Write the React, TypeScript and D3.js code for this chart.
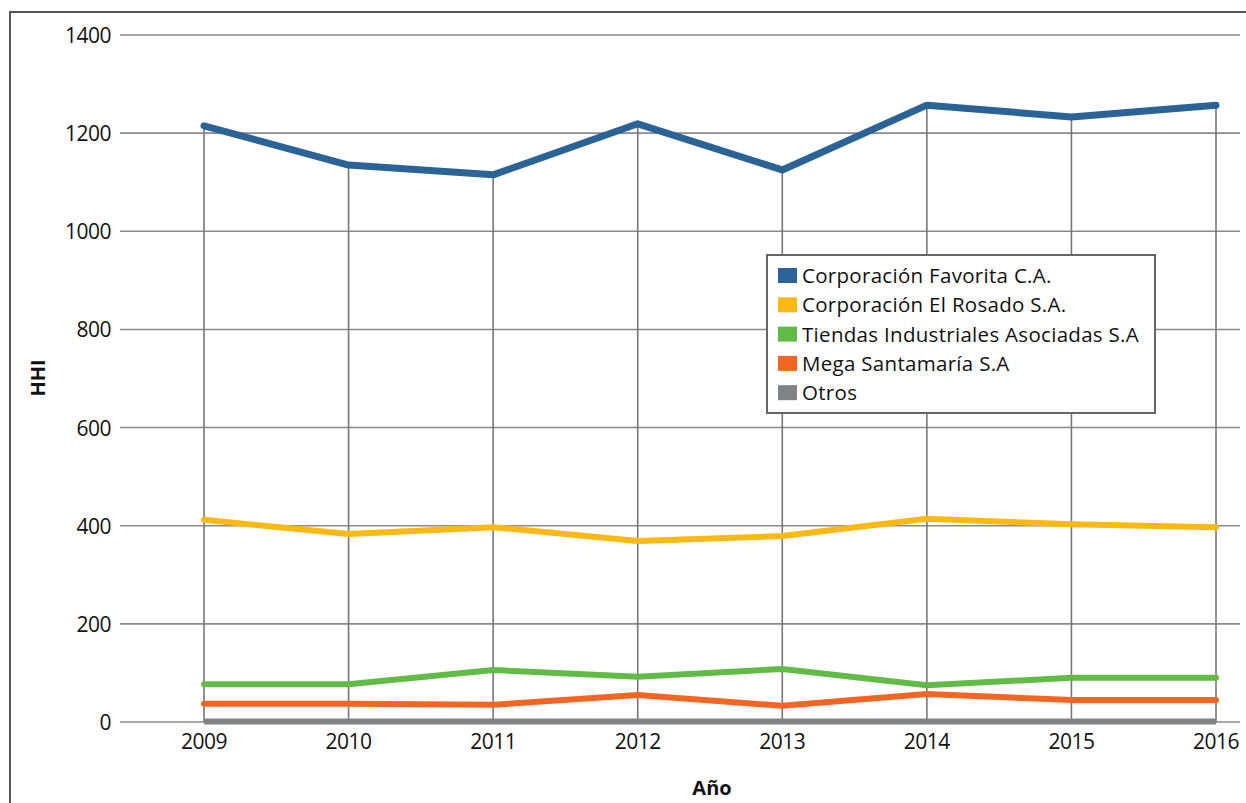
import React, { useEffect, useRef } from 'react'
import * as d3 from 'd3'

const years = [2009, 2010, 2011, 2012, 2013, 2014, 2015, 2016]
const favorita = [1215, 1135, 1115, 1219, 1125, 1257, 1233, 1257]
const rosado = [412, 383, 397, 369, 379, 414, 403, 397]
const tiendas = [77, 77, 106, 92, 108, 75, 90, 90]
const mega = [37, 37, 35, 55, 33, 57, 45, 45]
const otros = [1, 1, 1, 1, 1, 1, 1, 1]
const seriesNames = [
  'Corporación Favorita C.A.',
  'Corporación El Rosado S.A.',
  'Tiendas Industriales Asociadas S.A',
  'Mega Santamaría S.A',
  'Otros',
]
const seriesColors = ['#2c6396', '#fdb913', '#62bb46', '#f26522', '#808285']
const yTicks = [0, 200, 400, 600, 800, 1000, 1200, 1400]

const W = 1246
const H = 803
const font = "'Open Sans', 'Noto Sans', sans-serif"

const App = () => {
  const ref = useRef<SVGSVGElement>(null)

  useEffect(() => {
    const svg = d3.select(ref.current)
    svg.selectAll('*').remove()

    const x = d3.scaleLinear().domain([2009, 2016]).range([204, 1216])
    const y = d3.scaleLinear().domain([0, 1400]).range([722, 35])

    // outer frame
    svg.append('path')
      .attr('d', `M10,${H} L10,12 L${W},12`)
      .attr('fill', 'none')
      .attr('stroke', '#555')
      .attr('stroke-width', 2)

    // horizontal gridlines
    svg.append('g').selectAll('line')
      .data(yTicks)
      .join('line')
      .attr('x1', 120).attr('x2', 1240)
      .attr('y1', d => y(d)).attr('y2', d => y(d))
      .attr('stroke', '#8a8a8a')
      .attr('stroke-width', 1.6)

    // y tick labels
    svg.append('g').selectAll('text')
      .data(yTicks)
      .join('text')
      .attr('x', 111)
      .attr('y', d => y(d) + 8)
      .attr('text-anchor', 'end')
      .attr('font-family', font)
      .attr('font-size', 21)
      .attr('letter-spacing', -0.5)
      .attr('fill', '#111')
      .text(d => d)

    // vertical drop lines from top series to 0
    svg.append('g').selectAll('line')
      .data(years)
      .join('line')
      .attr('x1', d => x(d)).attr('x2', d => x(d))
      .attr('y1', (d, i) => y(favorita[i])).attr('y2', y(0))
      .attr('stroke', '#777')
      .attr('stroke-width', 1.6)

    // x tick labels
    svg.append('g').selectAll('text')
      .data(years)
      .join('text')
      .attr('x', d => x(d))
      .attr('y', 749)
      .attr('text-anchor', 'middle')
      .attr('font-family', font)
      .attr('font-size', 21)
      .attr('letter-spacing', -0.5)
      .attr('fill', '#111')
      .text(d => d)

    const allSeries = [favorita, rosado, tiendas, mega, otros]
    const line = d3.line<number>()
      .x((d, i) => x(years[i]))
      .y(d => y(d))

    allSeries.slice().reverse().forEach((vals, k) => {
      const idx = allSeries.length - 1 - k
      svg.append('path')
        .datum(vals)
        .attr('d', line)
        .attr('fill', 'none')
        .attr('stroke', seriesColors[idx])
        .attr('stroke-width', idx === 0 ? 7 : 6)
        .attr('stroke-linejoin', 'round')
        .attr('stroke-linecap', idx === 4 ? 'butt' : 'round')
    })

    // axis titles
    svg.append('text')
      .attr('transform', 'translate(45,378) rotate(-90)')
      .attr('text-anchor', 'middle')
      .attr('font-family', font)
      .attr('font-size', 20)
      .attr('font-weight', 700)
      .attr('fill', '#111')
      .text('HHI')

    svg.append('text')
      .attr('x', 712)
      .attr('y', 795)
      .attr('text-anchor', 'middle')
      .attr('font-family', font)
      .attr('font-size', 20)
      .attr('font-weight', 700)
      .attr('fill', '#111')
      .text('Año')

    // legend
    const legend = svg.append('g').attr('transform', 'translate(767,255)')
    legend.append('rect')
      .attr('width', 388).attr('height', 158)
      .attr('fill', '#fff')
      .attr('stroke', '#666')
      .attr('stroke-width', 2)
    const rows = legend.selectAll('g.row')
      .data(seriesNames)
      .join('g')
      .attr('class', 'row')
      .attr('transform', (d, i) => `translate(11,${20 + i * 29.3})`)
    rows.append('rect')
      .attr('x', 0).attr('y', -7)
      .attr('width', 19).attr('height', 15)
      .attr('fill', (d, i) => seriesColors[i])
    rows.append('text')
      .attr('x', 24)
      .attr('y', 8)
      .attr('font-family', font)
      .attr('font-size', 20.5)
      .attr('letter-spacing', 0.3)
      .attr('fill', '#111')
      .text(d => d)
  }, [])

  return (
    <svg
      ref={ref}
      width={W}
      height={H}
      style={{ position: 'absolute', top: 0, left: 0, background: '#fff' }}
    />
  )
}

export default App
